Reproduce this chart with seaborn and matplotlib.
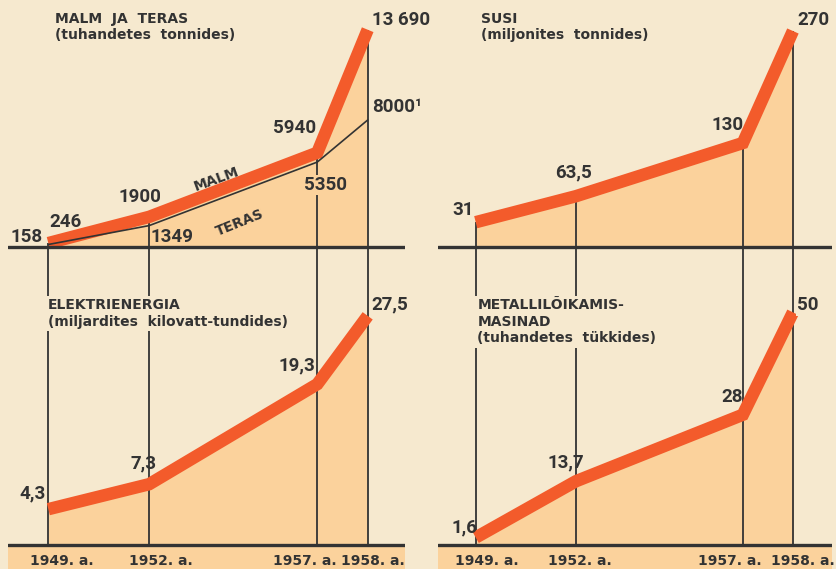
import numpy as np
import pandas as pd
import seaborn as sns
from matplotlib import pyplot as plt

years = [1949, 1952, 1957, 1958]
year_labels = ["1949. a.", "1952. a.", "1957. a.", "1958. a."]

malm = [246, 1900, 5940, 13690]
teras = [158, 1349, 5350, 8000]
susi = [31, 63.5, 130, 270]
elekter = [4.3, 7.3, 19.3, 27.5]
masinad = [1.6, 13.7, 28, 50]

malm_labels = ["246", "1900", "5940", "13 690"]
teras_labels = ["158", "1349", "5350", "8000¹"]
susi_labels = ["31", "63,5", "130", "270"]
elekter_labels = ["4,3", "7,3", "19,3", "27,5"]
masinad_labels = ["1,6", "13,7", "28", "50"]

BG = "#f6e9cf"
FILL = "#fbd29c"
BAND = "#f35b2b"
INK = "#333333"

sns.set_theme(style="white")
plt.rcParams["font.family"] = ["DejaVu Sans"]
NUM_FONT = ["Roboto", "DejaVu Sans"]


def fwd(x):
    x = np.asarray(x, dtype=float)
    return x + 0.5 * np.clip(x - 1957, 0, None)


def inv(y):
    y = np.asarray(y, dtype=float)
    return np.where(y <= 1957, y, 1957 + (y - 1957) / 1.5)


def setup(ax, ylim, xlim):
    ax.set_xscale("function", functions=(fwd, inv))
    ax.set_xlim(*xlim)
    ax.set_ylim(*ylim)
    ax.set_facecolor("none")
    ax.axis("off")


def draw_series(ax, values, top_panel):
    df = pd.DataFrame({"year": years, "value": values})
    ax.fill_between(df["year"], df["value"], 0, color=FILL, lw=0, zorder=1)
    if top_panel:
        ax.vlines(years, ax.get_ylim()[0], values, color=INK, lw=1.3, zorder=2)
    else:
        ax.axhspan(ax.get_ylim()[0], 0, color=FILL, lw=0, zorder=0)
        ax.vlines(years, 0, ax.get_ylim()[1], color=INK, lw=1.3, zorder=2)
    sns.lineplot(data=df, x="year", y="value", ax=ax, color=BAND, lw=9,
                 solid_joinstyle="miter", solid_capstyle="butt", zorder=3)
    ax.axhline(0, color=INK, lw=2.4, zorder=4)


def put_labels(ax, values, labels, offsets, last_box=False):
    for i, (yr, v, lab, off) in enumerate(zip(years, values, labels, offsets)):
        ha = "left" if i == 3 else "center"
        box = None
        if i == 3 and last_box:
            box = dict(facecolor=BG, edgecolor="none", pad=1)
        ax.annotate(lab, (yr, v), xytext=off, textcoords="offset pixels",
                    ha=ha, va="center", fontsize=13.5, fontweight="bold",
                    color=INK, family=NUM_FONT, bbox=box, zorder=6)


def put_title(ax, txt, x, y):
    ax.text(x, y, txt, transform=ax.transAxes, ha="left", va="top",
            fontsize=10, fontweight="bold", color=INK, linespacing=1.2,
            bbox=dict(facecolor=BG, edgecolor="none", pad=2), zorder=6)


def put_years(ax, offsets):
    for yr, lab, off in zip(years, year_labels, offsets):
        ax.annotate(lab, (yr, 0), xytext=(off, -16), textcoords="offset pixels",
                    ha="center", va="center", fontsize=10, fontweight="bold",
                    color=INK, zorder=6)


fig = plt.figure(figsize=(8.36, 5.69), dpi=100, facecolor=BG)
W, H = 836, 569
top_b, top_h = (H - 290) / H, 290 / H
bot_b, bot_h = 0, 279 / H
ax_tl = fig.add_axes([8 / W, top_b, 397 / W, top_h])
ax_tr = fig.add_axes([438 / W, top_b, 394 / W, top_h])
ax_bl = fig.add_axes([8 / W, bot_b, 397 / W, bot_h])
ax_br = fig.add_axes([438 / W, bot_b, 394 / W, bot_h])

xl_left = (1947.8, 1958.74)
xl_right = (1947.87, 1958.78)

# MALM JA TERAS
setup(ax_tl, (-2709, 15561), xl_left)
draw_series(ax_tl, malm, True)
ax_tl.plot(years, teras, color=INK, lw=1.2, zorder=3)
put_labels(ax_tl, malm, malm_labels, [(17, 21), (-9, 20), (-23, 25), (4, 10)])
teras_off = [(-22, 7), (23, -11), (8, -23), (4, 13)]
for i, (yr, v, lab, off) in enumerate(zip(years, teras, teras_labels, teras_off)):
    ax_tl.annotate(lab, (yr, v), xytext=off, textcoords="offset pixels",
                   ha="left" if i == 3 else "center", va="center", fontsize=13.5,
                   fontweight="bold", color=INK, family=NUM_FONT, zorder=6,
                   bbox=dict(facecolor=FILL, edgecolor="none", pad=1) if i == 2 else None)
ax_tl.text(1954, 4300, "MALM", rotation=20, ha="center", va="center",
           fontsize=10, fontweight="bold", color=INK, zorder=6)
ax_tl.text(1954.7, 1500, "TERAS", rotation=22, ha="center", va="center",
           fontsize=10, fontweight="bold", color=INK, zorder=6)
put_title(ax_tl, "MALM  JA  TERAS\n(tuhandetes  tonnides)", 0.118, 0.96)

# SUSI
setup(ax_tr, (-53.75, 308.75), xl_right)
draw_series(ax_tr, susi, True)
put_labels(ax_tr, susi, susi_labels, [(-13, 12), (-2, 24), (-15, 18), (4, 11)])
put_title(ax_tr, "SUSI\n(miljonites  tonnides)", 0.11, 0.96)

# ELEKTRIENERGIA
setup(ax_bl, (-2.88, 30.6), xl_left)
draw_series(ax_bl, elekter, False)
put_labels(ax_bl, elekter, elekter_labels, [(-16, 16), (-6, 21), (-20, 19), (4, 11)], True)
put_title(ax_bl, "ELEKTRIENERGIA\n(miljardites  kilovatt-tundides)", 0.1, 0.97)
put_years(ax_bl, [13, 12, -12, 5])

# METALLILÕIKAMISMASINAD
setup(ax_br, (-5.16, 54.8), xl_right)
draw_series(ax_br, masinad, False)
put_labels(ax_br, masinad, masinad_labels, [(-11, 10), (-10, 19), (-11, 18), (4, 7)], True)
put_title(ax_br, "METALLILÕIKAMIS-\nMASINAD\n(tuhandetes  tükkides)", 0.1, 0.97)
put_years(ax_br, [11, 4, -13, 10])

fig.savefig("out.png", dpi=100, facecolor=BG)
